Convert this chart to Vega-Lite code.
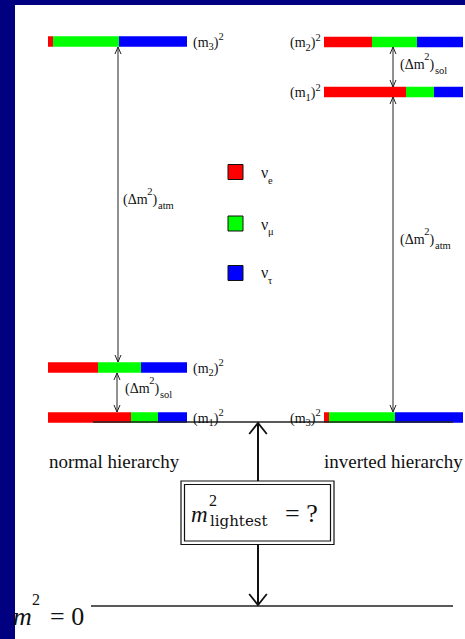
{
  "$schema": "https://vega.github.io/schema/vega-lite/v6.json",
  "width": 450,
  "height": 634,
  "autosize": {"type": "none"},
  "padding": {"left": 15, "top": 5, "right": 0, "bottom": 0},
  "background": "#000080",
  "config": {"view": {"stroke": null, "fill": "white"}},
  "datasets": {
    "bars": [
      {"x": 48, "x2": 53, "y": 41.5, "nu": "e"}, {"x": 53, "x2": 119, "y": 41.5, "nu": "mu"}, {"x": 119, "x2": 187, "y": 41.5, "nu": "tau"},
      {"x": 48, "x2": 98, "y": 367.5, "nu": "e"}, {"x": 98, "x2": 141, "y": 367.5, "nu": "mu"}, {"x": 141, "x2": 187, "y": 367.5, "nu": "tau"},
      {"x": 48, "x2": 131, "y": 417.5, "nu": "e"}, {"x": 131, "x2": 158, "y": 417.5, "nu": "mu"}, {"x": 158, "x2": 187, "y": 417.5, "nu": "tau"},
      {"x": 324, "x2": 372, "y": 42, "nu": "e"}, {"x": 372, "x2": 417, "y": 42, "nu": "mu"}, {"x": 417, "x2": 463, "y": 42, "nu": "tau"},
      {"x": 324, "x2": 406, "y": 92, "nu": "e"}, {"x": 406, "x2": 434, "y": 92, "nu": "mu"}, {"x": 434, "x2": 463, "y": 92, "nu": "tau"},
      {"x": 324, "x2": 329, "y": 417.5, "nu": "e"}, {"x": 329, "x2": 395, "y": 417.5, "nu": "mu"}, {"x": 395, "x2": 463, "y": 417.5, "nu": "tau"}
    ],
    "segs": [
      {"x": 118, "y": 47, "x2": 118, "y2": 362, "w": "thin"},
      {"x": 117, "y": 373, "x2": 117, "y2": 412, "w": "thin"},
      {"x": 393, "y": 47, "x2": 393, "y2": 87, "w": "thin"},
      {"x": 393, "y": 97, "x2": 393, "y2": 412, "w": "thin"},
      {"x": 93, "y": 422, "x2": 453, "y2": 422, "w": "level"},
      {"x": 91, "y": 606, "x2": 453, "y2": 606, "w": "level"},
      {"x": 258, "y": 423, "x2": 258, "y2": 481, "w": "thick"},
      {"x": 258, "y": 545, "x2": 258, "y2": 605, "w": "thick"}
    ],
    "heads": [
      {"x": 118, "y": 47, "dir": "up", "k": "small"},
      {"x": 117, "y": 373, "dir": "up", "k": "small"},
      {"x": 393, "y": 47, "dir": "up", "k": "small"},
      {"x": 393, "y": 97, "dir": "up", "k": "small"},
      {"x": 118, "y": 362, "dir": "down", "k": "small"},
      {"x": 117, "y": 412, "dir": "down", "k": "small"},
      {"x": 393, "y": 87, "dir": "down", "k": "small"},
      {"x": 393, "y": 412, "dir": "down", "k": "small"},
      {"x": 258, "y": 423, "dir": "up", "k": "big"},
      {"x": 258, "y": 605, "dir": "down", "k": "big"}
    ],
    "boxes": [
      {"x": 181, "x2": 334, "y": 481, "y2": 544.5},
      {"x": 184.5, "x2": 330.5, "y": 484.5, "y2": 541}
    ],
    "keys": [
      {"x": 235.5, "y": 172, "nu": "e"},
      {"x": 235.5, "y": 223.5, "nu": "mu"},
      {"x": 235.5, "y": 273, "nu": "tau"}
    ],
    "texts": [
      {"t": "(m", "x": 193, "y": 46.5, "s": "A"}, {"t": "3", "x": 208.6, "y": 50, "s": "B"}, {"t": ")", "x": 213.8, "y": 46.5, "s": "A"}, {"t": "2", "x": 218.5, "y": 40, "s": "B"},
      {"t": "(m", "x": 193, "y": 372.5, "s": "A"}, {"t": "2", "x": 208.6, "y": 376, "s": "B"}, {"t": ")", "x": 213.8, "y": 372.5, "s": "A"}, {"t": "2", "x": 218.5, "y": 366, "s": "B"},
      {"t": "(m", "x": 193, "y": 422.5, "s": "A"}, {"t": "1", "x": 208.6, "y": 426, "s": "B"}, {"t": ")", "x": 213.8, "y": 422.5, "s": "A"}, {"t": "2", "x": 218.5, "y": 416, "s": "B"},
      {"t": "(m", "x": 290, "y": 47, "s": "A"}, {"t": "2", "x": 305.6, "y": 50.5, "s": "B"}, {"t": ")", "x": 310.8, "y": 47, "s": "A"}, {"t": "2", "x": 315.5, "y": 40.5, "s": "B"},
      {"t": "(m", "x": 290, "y": 97, "s": "A"}, {"t": "1", "x": 305.6, "y": 100.5, "s": "B"}, {"t": ")", "x": 310.8, "y": 97, "s": "A"}, {"t": "2", "x": 315.5, "y": 90.5, "s": "B"},
      {"t": "(m", "x": 290, "y": 422.5, "s": "A"}, {"t": "3", "x": 305.6, "y": 426, "s": "B"}, {"t": ")", "x": 310.8, "y": 422.5, "s": "A"}, {"t": "2", "x": 315.5, "y": 416, "s": "B"},
      {"t": "(Δm", "x": 123, "y": 204, "s": "A"}, {"t": "2", "x": 147.3, "y": 195, "s": "B"}, {"t": ")", "x": 152.5, "y": 204, "s": "A"}, {"t": "atm", "x": 158, "y": 209, "s": "B"},
      {"t": "(Δm", "x": 125, "y": 393, "s": "A"}, {"t": "2", "x": 149.3, "y": 384, "s": "B"}, {"t": ")", "x": 154.5, "y": 393, "s": "A"}, {"t": "sol", "x": 160, "y": 398, "s": "B"},
      {"t": "(Δm", "x": 400, "y": 69, "s": "A"}, {"t": "2", "x": 424.3, "y": 60, "s": "B"}, {"t": ")", "x": 429.5, "y": 69, "s": "A"}, {"t": "sol", "x": 435, "y": 74, "s": "B"},
      {"t": "(Δm", "x": 400, "y": 244, "s": "A"}, {"t": "2", "x": 424.3, "y": 235, "s": "B"}, {"t": ")", "x": 429.5, "y": 244, "s": "A"}, {"t": "atm", "x": 435, "y": 249, "s": "B"},
      {"t": "ν", "x": 261, "y": 178, "s": "N"}, {"t": "e", "x": 268, "y": 184, "s": "B"},
      {"t": "ν", "x": 261, "y": 230, "s": "N"}, {"t": "μ", "x": 268, "y": 235, "s": "B"},
      {"t": "ν", "x": 261, "y": 278, "s": "N"}, {"t": "τ", "x": 268, "y": 284, "s": "B"},
      {"t": "normal hierarchy", "x": 49, "y": 468, "s": "D"},
      {"t": "inverted hierarchy", "x": 324, "y": 468, "s": "D"},
      {"t": "m", "x": 191, "y": 522, "s": "E"},
      {"t": "m", "x": 13, "y": 625, "s": "E2"},
      {"t": "2", "x": 209, "y": 506, "s": "F"},
      {"t": "2", "x": 32, "y": 605, "s": "F"},
      {"t": "lightest", "x": 210, "y": 526, "s": "G"},
      {"t": "= ?", "x": 285, "y": 522, "s": "H"},
      {"t": "= 0", "x": 50, "y": 625, "s": "H"}
    ]
  },
  "encoding": {
    "x": {"field": "x", "type": "quantitative", "scale": {"domain": [15, 465], "nice": false, "zero": false}, "axis": null},
    "y": {"field": "y", "type": "quantitative", "scale": {"domain": [5, 639], "reverse": true, "nice": false, "zero": false}, "axis": null}
  },
  "layer": [
    {
      "data": {"name": "bars"},
      "mark": {"type": "rule", "strokeWidth": 10.5, "strokeCap": "butt"},
      "encoding": {
        "x2": {"field": "x2"},
        "color": {"field": "nu", "type": "nominal", "scale": {"domain": ["e", "mu", "tau"], "range": ["#ff0000", "#00ff00", "#0000ff"]}, "legend": null}
      }
    },
    {
      "data": {"name": "segs"},
      "transform": [{"filter": "datum.w === 'thin'"}],
      "mark": {"type": "rule", "strokeWidth": 1, "color": "#222222"},
      "encoding": {"x2": {"field": "x2"}, "y2": {"field": "y2"}}
    },
    {
      "data": {"name": "segs"},
      "transform": [{"filter": "datum.w === 'level'"}],
      "mark": {"type": "rule", "strokeWidth": 1.5, "color": "#222222"},
      "encoding": {"x2": {"field": "x2"}, "y2": {"field": "y2"}}
    },
    {
      "data": {"name": "segs"},
      "transform": [{"filter": "datum.w === 'thick'"}],
      "mark": {"type": "rule", "strokeWidth": 2, "color": "#111111"},
      "encoding": {"x2": {"field": "x2"}, "y2": {"field": "y2"}}
    },
    {
      "data": {"name": "heads"},
      "transform": [{"filter": "datum.k === 'small'"}],
      "mark": {"type": "point", "filled": false, "stroke": "#222222", "strokeWidth": 1, "size": 196, "opacity": 1},
      "encoding": {
        "shape": {"field": "dir", "type": "nominal", "scale": {"domain": ["up", "down"], "range": ["M-0.43,1L0,0L0.43,1", "M-0.43,-1L0,0L0.43,-1"]}, "legend": null}
      }
    },
    {
      "data": {"name": "heads"},
      "transform": [{"filter": "datum.k === 'big'"}],
      "mark": {"type": "point", "filled": false, "stroke": "#111111", "strokeWidth": 1.8, "size": 484, "opacity": 1},
      "encoding": {
        "shape": {"field": "dir", "type": "nominal", "scale": {"domain": ["up", "down"], "range": ["M-0.8,1L0,0L0.8,1", "M-0.8,-1L0,0L0.8,-1"]}, "legend": null}
      }
    },
    {
      "data": {"name": "boxes"},
      "mark": {"type": "rect", "filled": false, "stroke": "#111111", "strokeWidth": 1.2},
      "encoding": {"x2": {"field": "x2"}, "y2": {"field": "y2"}}
    },
    {
      "data": {"name": "keys"},
      "mark": {"type": "point", "shape": "square", "filled": true, "size": 225, "stroke": "#111111", "strokeWidth": 1, "opacity": 1},
      "encoding": {
        "color": {"field": "nu", "type": "nominal", "legend": null}
      }
    },
    {
      "data": {"name": "texts"},
      "transform": [{"filter": "datum.s === 'A'"}],
      "mark": {"type": "text", "font": "Liberation Serif", "fontSize": 14, "align": "left", "baseline": "alphabetic", "color": "#111111"},
      "encoding": {"text": {"field": "t"}}
    },
    {
      "data": {"name": "texts"},
      "transform": [{"filter": "datum.s === 'N'"}],
      "mark": {"type": "text", "font": "Liberation Serif", "fontSize": 16, "align": "left", "baseline": "alphabetic", "color": "#111111"},
      "encoding": {"text": {"field": "t"}}
    },
    {
      "data": {"name": "texts"},
      "transform": [{"filter": "datum.s === 'B'"}],
      "mark": {"type": "text", "font": "Liberation Serif", "fontSize": 10.5, "align": "left", "baseline": "alphabetic", "color": "#111111"},
      "encoding": {"text": {"field": "t"}}
    },
    {
      "data": {"name": "texts"},
      "transform": [{"filter": "datum.s === 'D'"}],
      "mark": {"type": "text", "font": "Liberation Serif", "fontSize": 19, "align": "left", "baseline": "alphabetic", "color": "#111111"},
      "encoding": {"text": {"field": "t"}}
    },
    {
      "data": {"name": "texts"},
      "transform": [{"filter": "datum.s === 'E'"}],
      "mark": {"type": "text", "font": "Liberation Serif", "fontStyle": "italic", "fontSize": 23, "align": "left", "baseline": "alphabetic", "color": "#111111"},
      "encoding": {"text": {"field": "t"}}
    },
    {
      "data": {"name": "texts"},
      "transform": [{"filter": "datum.s === 'E2'"}],
      "mark": {"type": "text", "font": "Liberation Serif", "fontStyle": "italic", "fontSize": 26, "align": "left", "baseline": "alphabetic", "color": "#111111"},
      "encoding": {"text": {"field": "t"}}
    },
    {
      "data": {"name": "texts"},
      "transform": [{"filter": "datum.s === 'F'"}],
      "mark": {"type": "text", "font": "Liberation Serif", "fontSize": 16, "align": "left", "baseline": "alphabetic", "color": "#111111"},
      "encoding": {"text": {"field": "t"}}
    },
    {
      "data": {"name": "texts"},
      "transform": [{"filter": "datum.s === 'G'"}],
      "mark": {"type": "text", "font": "DejaVu Serif", "fontSize": 15, "align": "left", "baseline": "alphabetic", "color": "#111111"},
      "encoding": {"text": {"field": "t"}}
    },
    {
      "data": {"name": "texts"},
      "transform": [{"filter": "datum.s === 'H'"}],
      "mark": {"type": "text", "font": "Liberation Serif", "fontSize": 26, "align": "left", "baseline": "alphabetic", "color": "#111111"},
      "encoding": {"text": {"field": "t"}}
    }
  ],
  "resolve": {"scale": {"shape": "independent"}}
}
